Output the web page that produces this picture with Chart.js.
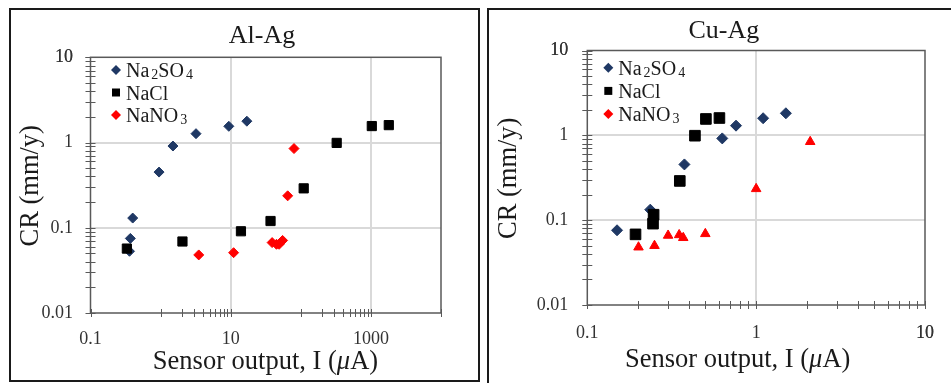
<!DOCTYPE html>
<html lang="en">
<head>
<meta charset="UTF-8" />
<title>CR vs sensor output: Al-Ag and Cu-Ag</title>
<script src="https://cdn.jsdelivr.net/npm/chart.js"></script>
<style>
  html, body {
    margin: 0;
    padding: 0;
    background: #fff;
    overflow: hidden;
    width: 951px;
    height: 383px;
  }
  .panel {
    position: absolute;
    box-sizing: border-box;
    border: 2px solid #1a1a1a;
    background: #fff;
  }
  #panelLeft { left: 9px; top: 8px; width: 471px; height: 374px; }
  #panelRight { left: 487px; top: 8px; width: 520px; height: 420px; }
  canvas { display: block; }
</style>
</head>
<body>
<div class="panel" id="panelLeft"><canvas id="alag" width="467" height="370"></canvas></div>
<div class="panel" id="panelRight"><canvas id="cuag" width="462" height="373"></canvas></div>

<script>
// === Series names (legend) ===
const seriesNames = ['Na₂SO₄', 'NaCl', 'NaNO₃'];

// === Al-Ag data ===
const alAgNa2so4X = [0.36, 0.37, 0.40, 0.95, 1.5, 3.2, 9.4, 17];
const alAgNa2so4Y = [0.053, 0.075, 0.13, 0.45, 0.91, 1.27, 1.55, 1.78];
const alAgNaclX = [0.33, 2.05, 14, 37, 110, 325, 1030, 1800];
const alAgNaclY = [0.057, 0.069, 0.091, 0.12, 0.29, 0.99, 1.56, 1.6];
const alAgNano3X = [3.5, 11, 39, 45, 49, 55, 65, 80];
const alAgNano3Y = [0.048, 0.051, 0.067, 0.064, 0.064, 0.071, 0.237, 0.85];

// === Cu-Ag data ===
const cuAgNa2so4X = [0.15, 0.236, 0.376, 0.63, 0.76, 1.1, 1.5];
const cuAgNa2so4Y = [0.076, 0.133, 0.454, 0.92, 1.3, 1.59, 1.82];
const cuAgNaclX = [0.193, 0.245, 0.247, 0.353, 0.434, 0.504, 0.606];
const cuAgNaclY = [0.068, 0.091, 0.116, 0.29, 0.99, 1.56, 1.6];
const cuAgNano3X = [0.201, 0.25, 0.301, 0.35, 0.37, 0.50, 1.0, 2.09];
const cuAgNano3Y = [0.048, 0.05, 0.066, 0.067, 0.062, 0.069, 0.234, 0.84];

// === Axis ticks ===
const yTickValues = [0.01, 0.1, 1, 10];
const yTickLabels = ['0.01', '0.1', '1', '10'];
const alAgXTickValues = [0.1, 10, 1000];
const alAgXTickLabels = ['0.1', '10', '1000'];
const cuAgXTickValues = [0.1, 1, 10];
const cuAgXTickLabels = ['0.1', '1', '10'];

const FONT = '"Liberation Serif", "Times New Roman", serif';
const TEXT = '#1a1a1a';
const TICK_TEXT = '#333333';
const AXIS = '#595959';
const GRID = '#d9d9d9';
const NAVY = '#1F3864';
const RED = '#FF0000';
const BLACK = '#000000';

function pairs(xs, ys) {
  return xs.map((x, i) => ({ x: x, y: ys[i] }));
}

// minor ticks: k * start for k in from..to, for each decade start
function minorTicks(starts, from, to) {
  const out = [];
  starts.forEach(s => { for (let k = from; k <= to; k++) out.push(s * k); });
  return out;
}

function same(a, b) { return Math.abs(a - b) / b < 1e-6; }

function logAxis(min, max, majors, labels, minors, grids, size, pad) {
  const all = majors.concat(minors, [max]).filter(v => v >= min && v <= max).sort((a, b) => a - b);
  return {
    type: 'logarithmic',
    min: min,
    max: max,
    afterBuildTicks: s => { s.ticks = all.map(v => ({ value: v })); },
    afterFit: s => { if (s.isHorizontal()) s.height = size; else s.width = size; },
    ticks: {
      autoSkip: false,
      maxRotation: 0,
      padding: pad,
      color: TICK_TEXT,
      font: { family: FONT, size: 18 },
      callback: v => {
        const i = majors.findIndex(m => same(v, m));
        return i >= 0 ? labels[i] : '';
      }
    },
    grid: {
      drawTicks: false,
      lineWidth: 2,
      color: c => (c.tick && grids.some(g => same(c.tick.value, g))) ? GRID : 'rgba(0,0,0,0)'
    },
    border: { display: false },
    title: { display: false }
  };
}

// === Draw a text with unicode subscripts as small lowered digits ===
const SUBS = '₀₁₂₃₄₅₆₇₈₉';
function drawRich(ctx, str, x, y, size) {
  let cx = x;
  for (const ch of str) {
    const si = SUBS.indexOf(ch);
    if (si >= 0) {
      ctx.font = Math.round(size * 0.68) + 'px ' + FONT;
      ctx.fillText(String(si), cx + 2, y + 2);
      cx += ctx.measureText(String(si)).width + 2;
    } else {
      ctx.font = size + 'px ' + FONT;
      ctx.fillText(ch, cx, y);
      cx += ctx.measureText(ch).width;
    }
  }
}

function drawMarker(ctx, style, color, x, y, r) {
  ctx.fillStyle = color;
  ctx.beginPath();
  if (style === 'rect') {
    ctx.rect(x - r, y - r, 2 * r, 2 * r);
  } else {
    ctx.moveTo(x - r, y);
    ctx.lineTo(x, y - r);
    ctx.lineTo(x + r, y);
    ctx.lineTo(x, y + r);
    ctx.closePath();
  }
  ctx.fill();
}

// === Excel-like frame, titles and in-plot legend ===
const excelFrame = {
  id: 'excelFrame',
  afterDraw(chart, args, o) {
    const ctx = chart.ctx;
    const a = chart.chartArea;
    const xs = chart.scales.x, ys = chart.scales.y;
    ctx.save();

    ctx.strokeStyle = AXIS;
    ctx.lineWidth = 1.5;
    ctx.strokeRect(a.left, a.top, a.right - a.left, a.bottom - a.top);

    ctx.lineWidth = 1;
    ctx.beginPath();
    xs.ticks.forEach(t => {
      const p = Math.round(xs.getPixelForValue(t.value)) + 0.5;
      ctx.moveTo(p, a.bottom - 4);
      ctx.lineTo(p, a.bottom + 4);
    });
    ys.ticks.forEach(t => {
      const p = Math.round(ys.getPixelForValue(t.value)) + 0.5;
      ctx.moveTo(a.left - 5, p);
      ctx.lineTo(a.left + 5, p);
    });
    ctx.stroke();

    ctx.fillStyle = TEXT;
    ctx.textBaseline = 'alphabetic';

    // chart title
    ctx.font = '26px ' + FONT;
    ctx.textAlign = 'center';
    ctx.fillText(o.title, o.titleX, o.titleY);

    // y title
    ctx.save();
    ctx.translate(o.yTitleX, o.yTitleY);
    ctx.rotate(-Math.PI / 2);
    ctx.font = '26.5px ' + FONT;
    ctx.fillText('CR (mm/y)', 0, 0);
    ctx.restore();

    // x title with italic mu
    const parts = [['Sensor output, I (', ''], ['μ', 'italic '], ['A)', '']];
    ctx.textAlign = 'left';
    let w = 0;
    parts.forEach(p => { ctx.font = p[1] + '26.5px ' + FONT; w += ctx.measureText(p[0]).width; });
    let cx = o.xTitleX - w / 2;
    parts.forEach(p => {
      ctx.font = p[1] + '26.5px ' + FONT;
      ctx.fillText(p[0], cx, o.xTitleY);
      cx += ctx.measureText(p[0]).width;
    });

    // legend
    seriesNames.forEach((name, i) => {
      const y = o.legendY + i * o.legendGap;
      drawMarker(ctx, o.legendStyles[i], o.legendColors[i], o.legendX, y, o.legendStyles[i] === 'rect' ? 4 : 5);
      ctx.fillStyle = TEXT;
      drawRich(ctx, name, o.legendTextX, y + 7, 20);
    });

    ctx.restore();
  }
};

function makeChart(id, sets, xAxis, yAxis, padding, frameOpts) {
  return new Chart(document.getElementById(id), {
    type: 'scatter',
    data: { datasets: sets },
    options: {
      responsive: false,
      animation: false,
      layout: { padding: padding },
      plugins: {
        legend: { display: false },
        title: { display: false },
        tooltip: { enabled: false },
        excelFrame: frameOpts
      },
      scales: { x: xAxis, y: yAxis }
    },
    plugins: [excelFrame]
  });
}

function series(label, data, style, color, radius, order) {
  return {
    label: label,
    data: data,
    pointStyle: style,
    pointRadius: radius,
    pointBorderWidth: 1,
    backgroundColor: color,
    borderColor: color,
    showLine: false,
    order: order
  };
}

const yMinors = minorTicks([0.01, 0.1, 1], 2, 9);

// === Al-Ag ===
makeChart('alag',
  [
    series(seriesNames[0], pairs(alAgNa2so4X, alAgNa2so4Y), 'rectRot', NAVY, 5, 3),
    series(seriesNames[1], pairs(alAgNaclX, alAgNaclY), 'rect', BLACK, 6.5, 2),
    series(seriesNames[2], pairs(alAgNano3X, alAgNano3Y), 'rectRot', RED, 5, 1)
  ],
  logAxis(0.1, 10000, alAgXTickValues, alAgXTickLabels, minorTicks([1, 100], 1, 9), [10, 1000], 67, 15),
  logAxis(0.01, 10, yTickValues, yTickLabels, yMinors, [0.1, 1], 79.5, 17.5),
  { left: 0, top: 47.3, right: 37, bottom: 0 },
  {
    title: 'Al-Ag', titleX: 251, titleY: 33.3,
    yTitleX: 27.3, yTitleY: 175.8,
    xTitleX: 254.5, xTitleY: 359.3,
    legendX: 105, legendY: 60, legendGap: 22.5, legendTextX: 115,
    legendStyles: ['rectRot', 'rect', 'rectRot'],
    legendColors: [NAVY, BLACK, RED]
  }
);

// === Cu-Ag ===
makeChart('cuag',
  [
    series(seriesNames[0], pairs(cuAgNa2so4X, cuAgNa2so4Y), 'rectRot', NAVY, 5.5, 3),
    series(seriesNames[1], pairs(cuAgNaclX, cuAgNaclY), 'rect', BLACK, 7.5, 2),
    series(seriesNames[2], pairs(cuAgNano3X, cuAgNano3Y), 'triangle', RED, 5.5, 1)
  ],
  logAxis(0.1, 10, cuAgXTickValues, cuAgXTickLabels, minorTicks([0.1, 1], 2, 9), [1], 78, 17),
  logAxis(0.01, 10, yTickValues, yTickLabels, yMinors, [0.1, 1], 98.3, 19),
  { left: 0, top: 40.5, right: 14, bottom: 0 },
  {
    title: 'Cu-Ag', titleX: 234.8, titleY: 28.3,
    yTitleX: 27, yTitleY: 168.3,
    xTitleX: 248.7, xTitleY: 356.7,
    legendX: 119.3, legendY: 57.7, legendGap: 23.2, legendTextX: 129.3,
    legendStyles: ['rectRot', 'rect', 'rectRot'],
    legendColors: [NAVY, BLACK, RED]
  }
);
</script>
</body>
</html>
